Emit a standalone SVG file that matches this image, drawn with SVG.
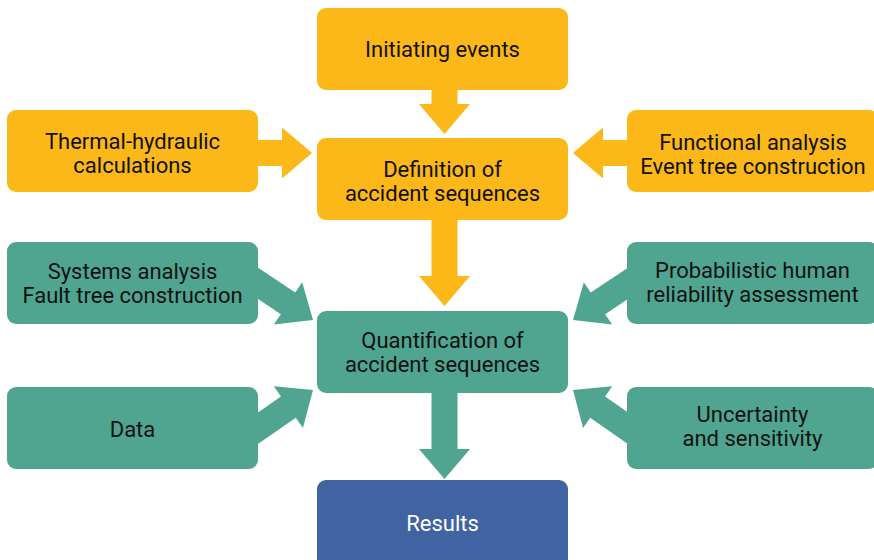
<svg xmlns="http://www.w3.org/2000/svg" width="874" height="560" viewBox="0 0 874 560">
<defs>
<style>
.y{fill:#FBB818}
.g{fill:#4FA590}
.b{fill:#4063A1}
text{font-family:Roboto,"Liberation Sans",sans-serif;font-size:22px;fill:#111;text-anchor:middle}
.w{fill:#fff}
</style>
<polygon id="arr" points="-95,-13 -30,-13 -30,-25.5 0,0 -30,25.5 -30,13 -95,13"/>
</defs>
<g id="connectors">
<use href="#arr" class="y" transform="translate(444.5,134) rotate(90)"/>
<use href="#arr" class="y" transform="translate(444.5,306) rotate(90)"/>
<use href="#arr" class="g" transform="translate(444.5,479) rotate(90)"/>
<use href="#arr" class="y" transform="translate(312,153)"/>
<use href="#arr" class="y" transform="translate(573,153) rotate(180)"/>
<use href="#arr" class="g" transform="translate(313,320) rotate(33.7)"/>
<use href="#arr" class="g" transform="translate(313,390) rotate(-34.8)"/>
<use href="#arr" class="g" transform="translate(573,320) rotate(146.3)"/>
<use href="#arr" class="g" transform="translate(573,390) rotate(214.8)"/>
</g>
<g id="initiating"><rect class="y" x="317" y="8" width="251" height="82" rx="9"/><text x="442.5" y="57">Initiating events</text></g>
<g id="definition"><rect class="y" x="317" y="138" width="251" height="82" rx="9"/><text x="442.5" y="177">Definition of</text><text x="442.5" y="201">accident sequences</text></g>
<g id="thermal"><rect class="y" x="7" y="110" width="251" height="82" rx="9"/><text x="132.5" y="149">Thermal-hydraulic</text><text x="132.5" y="173">calculations</text></g>
<g id="functional"><rect class="y" x="627" y="110" width="251" height="82" rx="9"/><text x="753" y="150">Functional analysis</text><text x="753" y="174">Event tree construction</text></g>
<g id="systems"><rect class="g" x="7" y="242" width="251" height="82" rx="9"/><text x="132.5" y="279">Systems analysis</text><text x="132.5" y="303">Fault tree construction</text></g>
<g id="quantification"><rect class="g" x="317" y="311" width="251" height="82" rx="9"/><text x="442.5" y="348">Quantification of</text><text x="442.5" y="372">accident sequences</text></g>
<g id="probabilistic"><rect class="g" x="627" y="242" width="251" height="82" rx="9"/><text x="752.5" y="278">Probabilistic human</text><text x="752.5" y="302">reliability assessment</text></g>
<g id="data"><rect class="g" x="7" y="387" width="251" height="82" rx="9"/><text x="132.5" y="437">Data</text></g>
<g id="uncertainty"><rect class="g" x="627" y="387" width="251" height="82" rx="9"/><text x="752.5" y="422">Uncertainty</text><text x="752.5" y="446">and sensitivity</text></g>
<g id="results"><rect class="b" x="317" y="480" width="251" height="90" rx="9"/><text class="w" x="442.5" y="531">Results</text></g>
</svg>
